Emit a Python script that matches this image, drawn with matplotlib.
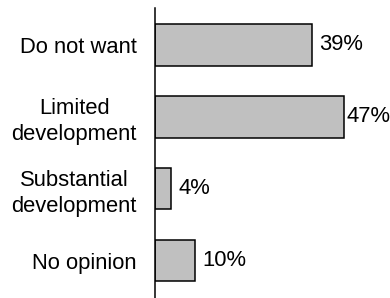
import matplotlib
matplotlib.use("Agg")
import matplotlib.pyplot as plt

categories = ["Do not want", "Limited\ndevelopment", "Substantial\ndevelopment", "No opinion"]
values = [39, 47, 4, 10]
value_labels = ["39%", "47%", "4%", "10%"]

plt.rcParams['font.family'] = ['Liberation Sans', 'DejaVu Sans']

fig = plt.figure(figsize=(3.9, 2.98), dpi=100)
ax = fig.add_axes([155/390, 0.0, (389-155)/390, 1 - 8/298])

pos = list(range(len(categories)))
ax.barh(pos, values, height=0.58, color='#c0c0c0', edgecolor='black', linewidth=1.1)
ax.set_ylim(3.52, -0.51)
ax.set_xlim(0, 58.2)

ax.set_yticks(pos)
ax.set_yticklabels(categories, fontsize=15.8, multialignment='center', linespacing=1.3)
ax.tick_params(axis='y', length=0, pad=13)
ax.set_xticks([])
for s in ['top', 'right', 'bottom']:
    ax.spines[s].set_visible(False)
ax.spines['left'].set_linewidth(1.1)

vmax = max(values)
for p, v, lab in zip(pos, values, value_labels):
    off = 1.5 if v == vmax else 5.5
    ax.annotate(lab, (v, p), xytext=(off, 0), textcoords='offset points',
                ha='left', va='center', fontsize=15.8)

fig.savefig("out.png", dpi=100)
